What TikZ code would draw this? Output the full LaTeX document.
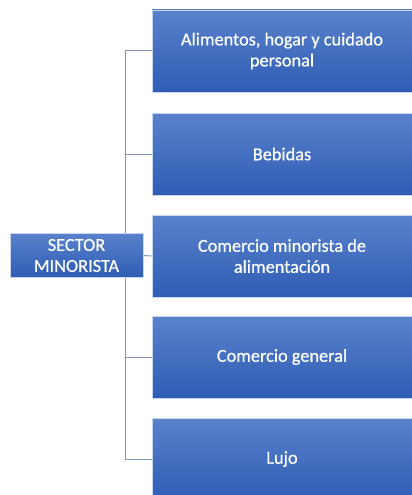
\documentclass[tikz,border=0pt]{standalone}
\usepackage{fontspec}
\setmainfont{Carlito}
\newfontfamily\boxfont{Carlito}[FakeBold=0.6]
\usetikzlibrary{positioning, backgrounds}

\definecolor{boxtop}{HTML}{5A81CC}
\definecolor{boxbot}{HTML}{2E5DB4}
\definecolor{boxrim}{HTML}{C9D5EC}
\definecolor{linkline}{HTML}{7F94C2}

\begin{document}
\begin{tikzpicture}[x=1pt, y=-1pt,
    catbox/.style={rectangle, draw=boxrim, line width=0.6pt, top color=boxtop, bottom color=boxbot,
        text=white, align=center, font=\boxfont\fontsize{18.3}{21}\selectfont, minimum width=260pt, minimum height=82pt, inner sep=2pt},
    rootbox/.style={catbox, minimum width=133pt, minimum height=44pt},
    link/.style={draw=linkline, line width=1pt}]
    \useasboundingbox (0,0) rectangle (412,495);
    \clip (0,0) rectangle (412,495);

    % Draw the category boxes on the right
    \node[catbox] (food) at (282,51) {Alimentos, hogar y cuidado\\ personal};
    \node[catbox] (drinks) at (282,154) {Bebidas};
    \node[catbox] (grocery) at (282,256) {Comercio minorista de\\ alimentación};
    \node[catbox] (general) at (282,357) {Comercio general};
    \node[catbox] (luxury) at (282,459) {Lujo};

    % Draw the root box on the left
    \node[rootbox] (sector) at (76.5,255.5) {SECTOR\\ MINORISTA};

    % Draw the connectors behind the boxes
    \coordinate (trunk) at (125,0);
    \begin{pgfonlayer}{background}
        \draw[link] (food.west) -| (trunk |- luxury.west) -- (luxury.west);
        \draw[link] (drinks.west) -- (trunk |- drinks.west);
        \draw[link] (general.west) -- (trunk |- general.west);
        \draw[link] (sector.east) -- (grocery.west);
    \end{pgfonlayer}
\end{tikzpicture}
\end{document}
